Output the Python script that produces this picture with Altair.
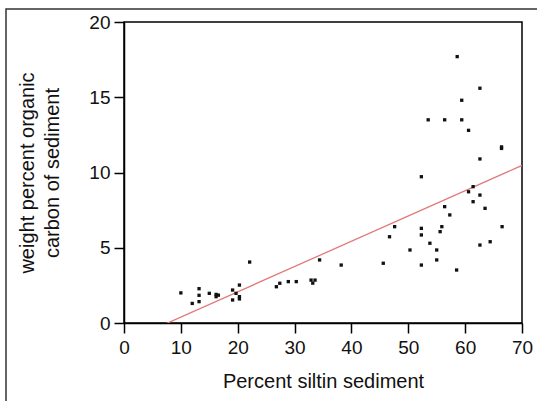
import altair as alt
import pandas as pd

# Percent silt in sediment (x) and weight percent organic carbon (y)
silt = [10.0, 12.0, 13.2, 13.2, 13.2, 15.0, 16.2, 16.6, 16.2, 19.1, 19.1, 19.7, 20.3, 20.3, 20.3, 22.1,
        26.8, 27.4, 28.9, 30.3, 32.9, 33.6, 33.2, 34.4, 38.2, 45.6, 46.7, 47.6,
        52.3, 61.4, 60.6, 62.6, 61.4, 56.4, 63.5, 57.3, 52.3, 55.9, 55.6, 66.5, 52.3, 53.8, 64.4, 62.6,
        50.3, 55.0, 55.0, 52.3, 58.5,
        58.6, 62.6, 59.4, 53.5, 56.4, 59.4, 60.6, 66.4, 66.4, 62.6]
carbon = [2.0, 1.3, 2.28, 1.84, 1.42, 1.97, 1.9, 1.85, 1.75, 2.19, 1.53, 1.97, 2.52, 1.75, 1.6, 4.05,
          2.41, 2.64, 2.75, 2.75, 2.85, 2.85, 2.65, 4.19, 3.85, 3.97, 5.73, 6.4,
          9.72, 9.06, 8.72, 8.5, 8.06, 7.73, 7.62, 7.18, 6.29, 6.4, 6.07, 6.4, 5.85, 5.3, 5.4, 5.18,
          4.85, 4.85, 4.19, 3.85, 3.52,
          17.7, 15.6, 14.8, 13.5, 13.5, 13.5, 12.8, 11.7, 11.6, 10.9]
x_ticks = [0, 10, 20, 30, 40, 50, 60, 70]
y_ticks = [0, 2.5, 5, 7.5, 10, 12.5, 15, 17.5, 20]

df = pd.DataFrame({"silt": silt, "carbon": carbon})

FONT = "Liberation Sans"

xenc = alt.X("silt:Q", scale=alt.Scale(domain=[0, 70], nice=False, zero=False),
             axis=alt.Axis(values=x_ticks, title="Percent siltin sediment", grid=False,
                           tickSize=10, labelPadding=5, labelFontSize=19,
                           labelFlush=False, labelOverlap=False,
                           titleFontSize=20, titleFontWeight="normal",
                           titleX=199, titleY=64, titleBaseline="alphabetic", titleAlign="center"))
yenc = alt.Y("carbon:Q", scale=alt.Scale(domain=[0, 20], nice=False, zero=False),
             axis=alt.Axis(values=y_ticks, title=["weight percent organic", "carbon of sediment"],
                           grid=False,
                           tickSize={"condition": {"test": "datum.value % 5 !== 0", "value": 5}, "value": 10},
                           labelExpr="datum.value % 5 === 0 ? datum.label : ''",
                           labelPadding=4, labelFontSize=19,
                           labelFlush=False, labelOverlap=False,
                           titleFontSize=20, titleFontWeight="normal", titleLineHeight=25,
                           titleAngle=270, titleX=-97, titleY=150.5, titleAlign="center",
                           titleBaseline="middle"))

points = alt.Chart(df).mark_square(size=11, color="#111111", opacity=1).encode(x=xenc, y=yenc)

fit = alt.Chart(df).transform_regression("silt", "carbon", extent=[0, 70]).mark_line(
    color="#e07a7a", strokeWidth=1.3, clip=True).encode(x="silt:Q", y="carbon:Q")

frame = alt.Chart(pd.DataFrame({"a": [0]})).mark_rect(
    fill=None, stroke="#333333", strokeWidth=1.5, clip=False).encode(
    x=alt.value(-118), x2=alt.value(440), y=alt.value(-13), y2=alt.value(420))

chart = alt.layer(frame, fit, points).properties(
    width=398, height=301,
    autosize=alt.AutoSizeParams(type="none"),
    padding={"left": 124, "top": 22, "right": 15, "bottom": 78},
).configure_view(stroke="black", strokeWidth=1.5).configure_axis(
    domainColor="black", domainWidth=1.5, tickColor="black", tickWidth=1.5,
    labelFont=FONT, titleFont=FONT, labelColor="#111111", titleColor="#111111"
)

chart.save("out.html", embed_options={"renderer": "svg", "actions": False})
